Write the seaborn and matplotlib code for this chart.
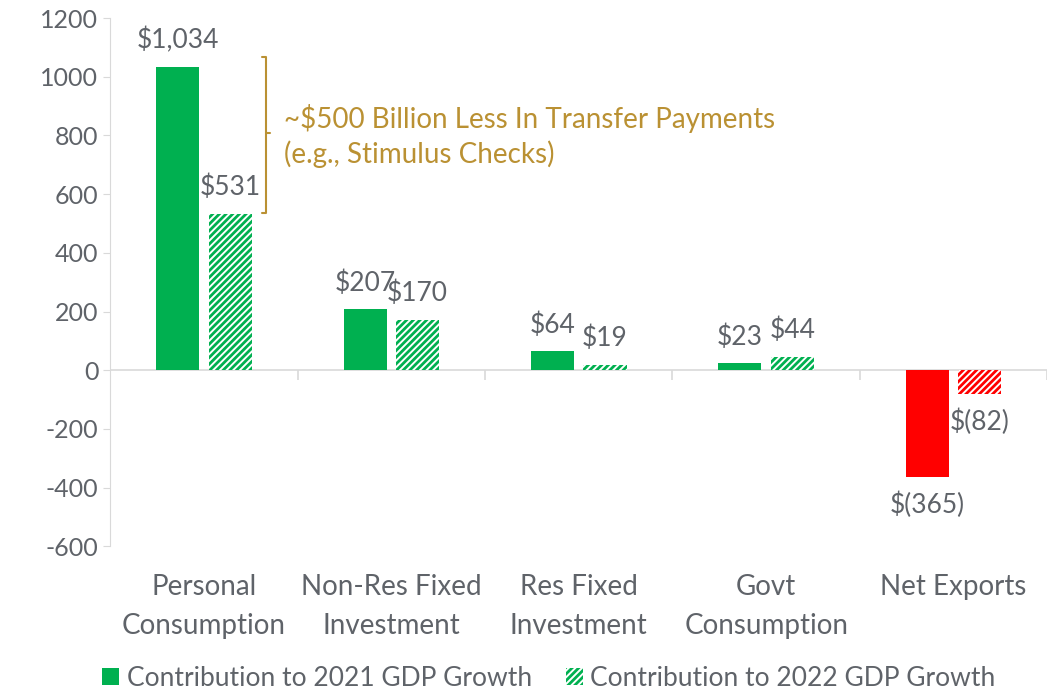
import numpy as np
import pandas as pd
import matplotlib
matplotlib.use("Agg")
import matplotlib.pyplot as plt
import seaborn as sns
from matplotlib.patches import Patch

# Contribution to real GDP growth, $ billions
categories = ["Personal\nConsumption", "Non-Res Fixed\nInvestment", "Res Fixed\nInvestment",
              "Govt\nConsumption", "Net Exports"]
contrib_2021 = [1034, 207, 64, 23, -365]
contrib_2022 = [531, 170, 19, 44, -82]
series = ["Contribution to 2021 GDP Growth", "Contribution to 2022 GDP Growth"]

GREEN = "#00B050"
RED = "#FF0000"
GREY = "#5f6369"
GOLD = "#BA9133"

df = pd.DataFrame({
    "Category": categories * 2,
    "Value": contrib_2021 + contrib_2022,
    "Series": [series[0]] * len(categories) + [series[1]] * len(categories),
})

sns.set_style("white")
plt.rcParams["font.family"] = ["Lato", "DejaVu Sans"]
plt.rcParams["hatch.linewidth"] = 2.0
plt.rcParams["axes.unicode_minus"] = False

fig = plt.figure(figsize=(10.6, 6.95), dpi=100)
ax = fig.add_axes([0.104, 0.214, 0.884, 0.760])

sns.barplot(data=df, x="Category", y="Value", hue="Series", ax=ax,
            width=0.56, gap=0.18, legend=False, saturation=1)

# colour the bars: solid for 2021, hatched for 2022, red when negative
for i, cont in enumerate(ax.containers):
    vals = contrib_2021 if i == 0 else contrib_2022
    for bar, v in zip(cont, vals):
        col = GREEN if v >= 0 else RED
        bar.set_linewidth(0)
        if i == 0:
            bar.set_facecolor(col)
        else:
            bar.set_facecolor("white")
            bar.set_edgecolor(col)
            bar.set_hatch("/////")
    labels = [f"${v:,}" if v >= 0 else f"$({-v:,})" for v in vals]
    ax.bar_label(cont, labels=labels, padding=10, fontsize=19, color=GREY)

ax.set_ylim(-600, 1200)
ax.set_yticks(np.arange(-600, 1201, 200))
ax.set_xlim(-0.5, len(categories) - 0.5)
ax.set_xlabel("")
ax.set_ylabel("")
ax.tick_params(axis="y", labelsize=18, labelcolor=GREY, length=5, color="#d9d9d9", left=True)
ax.tick_params(axis="x", labelsize=20, labelcolor=GREY, length=0, pad=20)
for lab in ax.get_xticklabels():
    lab.set_linespacing(1.6)

for s in ["top", "right", "bottom"]:
    ax.spines[s].set_visible(False)
ax.spines["left"].set_color("#d9d9d9")

# zero line with category separators
ax.axhline(0, color="#d9d9d9", lw=1.2, zorder=0)
ax.vlines(np.arange(0.5, len(categories), 1), -35, 0, color="#d9d9d9", lw=1.2)

# bracket annotation
bx = 0.33
ax.plot([bx - 0.02, bx, bx, bx - 0.02], [1067, 1067, 535, 535], color=GOLD, lw=1.5)
ax.plot([bx, bx + 0.025], [808, 808], color=GOLD, lw=1.5)
ax.text(bx + 0.095, 798, "~$500 Billion Less In Transfer Payments\n(e.g., Stimulus Checks)",
        color=GOLD, fontsize=20, va="center", ha="left", linespacing=1.3)

handles = [Patch(facecolor=GREEN, edgecolor=GREEN, lw=0),
           Patch(facecolor="white", edgecolor=GREEN, hatch="/////", lw=0)]
leg = fig.legend(handles, series, loc="lower center", bbox_to_anchor=(0.518, -0.028),
                 ncol=2, frameon=False, fontsize=19, handlelength=0.62, handleheight=0.62,
                 handletextpad=0.3, columnspacing=1.3)
for t in leg.get_texts():
    t.set_color(GREY)

fig.savefig("out.png", dpi=100)
